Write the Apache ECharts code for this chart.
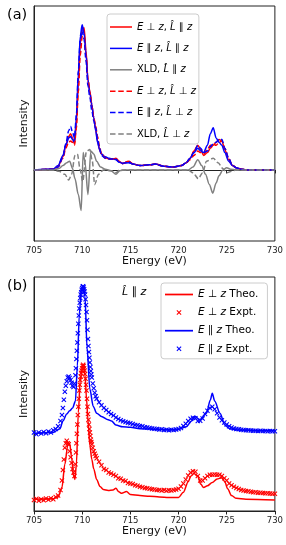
<!DOCTYPE html>
<html>
<head>
<meta charset="utf-8">
<script src="https://cdn.jsdelivr.net/npm/echarts@6/dist/echarts.min.js"></script>
<style>
html,body{margin:0;padding:0;background:#fff;}
#c{width:286px;height:545px;}
</style>
</head>
<body>
<div id="c"></div>
<script>
// ---------- Panel (a): theory spectra ----------
const energyA = [705, 707, 707.5, 708, 708.3, 708.6, 708.8, 709.0,
  709.2, 709.4, 709.6, 709.8, 710.0, 710.2, 710.4, 710.6,
  710.8, 711.0, 711.2, 711.4, 711.6, 711.8, 712.0, 712.4,
  712.8, 713.2, 713.5, 713.8, 714.2, 714.8, 715.3, 716,
  717, 717.6, 718.5, 719.5, 720.3, 720.8, 721.2, 721.6,
  722.0, 722.3, 722.6, 723.0, 723.3, 723.6, 723.9, 724.2,
  724.5, 724.8, 725.2, 725.6, 726.0, 726.5, 727, 730];

const redPar = [0, 0.005, 0.025, 0.09, 0.17, 0.23, 0.25, 0.22,
  0.18, 0.32, 0.60, 0.87, 0.97, 0.98, 0.82, 0.62,
  0.54, 0.45, 0.36, 0.28, 0.20, 0.14, 0.11, 0.085,
  0.075, 0.075, 0.08, 0.06, 0.045, 0.06, 0.04, 0.03,
  0.035, 0.04, 0.025, 0.02, 0.03, 0.05, 0.08, 0.13,
  0.17, 0.14, 0.10, 0.12, 0.15, 0.17, 0.19, 0.21,
  0.20, 0.14, 0.07, 0.03, 0.015, 0.005, 0, 0];

const bluePar = [0, 0.006, 0.03, 0.10, 0.17, 0.22, 0.23, 0.21,
  0.19, 0.36, 0.66, 0.92, 1.0, 0.94, 0.80, 0.62,
  0.53, 0.45, 0.36, 0.27, 0.19, 0.14, 0.11, 0.09,
  0.08, 0.075, 0.07, 0.055, 0.045, 0.05, 0.04, 0.03,
  0.035, 0.04, 0.025, 0.02, 0.03, 0.05, 0.08, 0.12,
  0.15, 0.13, 0.12, 0.17, 0.25, 0.29, 0.22, 0.19,
  0.17, 0.12, 0.06, 0.03, 0.015, 0.005, 0, 0];

const redPerp = [0, 0.005, 0.02, 0.08, 0.15, 0.19, 0.20, 0.19,
  0.17, 0.29, 0.54, 0.79, 0.92, 0.92, 0.78, 0.62,
  0.53, 0.43, 0.36, 0.30, 0.23, 0.16, 0.11, 0.08,
  0.075, 0.075, 0.08, 0.06, 0.045, 0.06, 0.04, 0.03,
  0.035, 0.04, 0.025, 0.02, 0.03, 0.05, 0.07, 0.10,
  0.13, 0.12, 0.11, 0.14, 0.17, 0.18, 0.17, 0.19,
  0.20, 0.15, 0.08, 0.03, 0.015, 0.005, 0, 0];

const bluePerp = [0, 0.005, 0.02, 0.09, 0.18, 0.27, 0.30, 0.26,
  0.22, 0.38, 0.68, 0.90, 0.96, 0.90, 0.75, 0.58,
  0.50, 0.41, 0.34, 0.29, 0.21, 0.15, 0.10, 0.08,
  0.075, 0.075, 0.075, 0.055, 0.045, 0.055, 0.04, 0.03,
  0.035, 0.04, 0.025, 0.02, 0.03, 0.05, 0.08, 0.12,
  0.17, 0.15, 0.12, 0.13, 0.16, 0.18, 0.19, 0.21,
  0.21, 0.15, 0.08, 0.03, 0.015, 0.005, 0, 0];

const xldPar = [[705,0],[707,0],[707.6,0.01],[708.0,0.03],[708.4,0.05],[708.7,0.06],[709.0,0.01],[709.25,-0.06],
  [709.6,-0.17],[709.9,-0.28],[710.1,0.12],[710.3,0.05],[710.6,-0.17],[710.9,0.13],[711.2,0.11],[711.5,0.06],
  [711.9,0.02],[712.4,0.005],[713.0,-0.005],[713.5,-0.03],[713.9,-0.005],[714.5,0],[721,0],[721.5,0.02],
  [722.0,0.07],[722.4,0.03],[722.8,-0.03],[723.2,-0.1],[723.55,-0.16],[723.9,-0.09],[724.2,-0.04],[724.6,0],
  [725,0.015],[725.4,0.005],[726,0],[730,0]];

const xldPerp = [[705,0],[707,0],[707.6,-0.01],[708.2,-0.03],[708.6,-0.07],[708.9,-0.03],[709.25,0.10],[709.5,0.11],
  [709.8,0.0],[710.05,-0.08],[710.45,0.13],[710.8,0.14],[711.05,0.06],[711.3,-0.1],[711.7,-0.03],[712.2,0],
  [713.0,-0.005],[713.5,-0.02],[713.9,0],[721,0],[721.5,-0.02],[722.05,-0.06],[722.5,-0.02],[722.9,0.06],
  [723.6,0.08],[724.1,0.05],[724.6,0.01],[725.0,-0.02],[725.5,-0.01],[726,0],[730,0]];

// ---------- Panel (b): theory vs experiment ----------
const theoRed = [[705,0.05],[707,0.052],[707.5,0.06],[707.9,0.10],[708.2,0.2],[708.5,0.28],[708.7,0.29],[708.9,0.23],
  [709.1,0.15],[709.25,0.135],[709.4,0.2],[709.6,0.42],[709.8,0.56],[710.0,0.61],[710.15,0.62],[710.3,0.58],
  [710.45,0.48],[710.6,0.39],[710.8,0.28],[711.0,0.22],[711.2,0.18],[711.5,0.135],[711.85,0.105],[712.2,0.092],
  [712.7,0.088],[713.2,0.09],[713.5,0.097],[713.8,0.082],[714.1,0.076],[714.6,0.083],[715,0.07],[716,0.066],
  [717,0.063],[718,0.06],[719,0.058],[720,0.058],[720.5,0.08],[721,0.125],[721.3,0.15],[721.6,0.16],
  [722.0,0.148],[722.3,0.115],[722.6,0.1],[723,0.108],[723.5,0.122],[724,0.137],[724.5,0.142],[724.8,0.125],
  [725.1,0.095],[725.5,0.066],[726,0.054],[727,0.05],[730,0.047]];

const theoBlue = [[705,0.332],[707,0.336],[707.7,0.352],[708.0,0.385],[708.4,0.415],[708.7,0.428],[709.0,0.44],[709.3,0.47],
  [709.5,0.62],[709.7,0.84],[709.9,0.94],[710.1,0.962],[710.3,0.915],[710.5,0.7],[710.8,0.52],[711.15,0.447],
  [711.5,0.418],[712.0,0.404],[712.7,0.39],[713.05,0.385],[713.5,0.367],[714.2,0.36],[715,0.358],[716,0.352],
  [718,0.348],[720,0.348],[720.8,0.36],[721.35,0.385],[721.7,0.405],[722.2,0.39],[722.9,0.418],[723.3,0.474],
  [723.5,0.503],[723.75,0.47],[724.3,0.418],[724.8,0.368],[725.3,0.352],[726,0.346],[730,0.343]];

const exptRed = [[705,0.047],[705.25,0.052],[705.5,0.044],[705.75,0.05],[706,0.046],[706.25,0.053],[706.5,0.048],[706.75,0.055],[707,0.05],[707.25,0.06],[707.5,0.066],[707.75,0.09],
  [707.9,0.13],[708,0.175],[708.1,0.22],[708.2,0.27],[708.3,0.29],[708.4,0.30],[708.5,0.29],[708.6,0.285],[708.7,0.255],[708.8,0.23],[708.9,0.205],[709,0.18],[709.1,0.165],[709.2,0.15],[709.3,0.2],
  [709.35,0.25],[709.4,0.29],[709.45,0.33],[709.5,0.37],[709.55,0.41],[709.6,0.445],[709.65,0.48],[709.7,0.515],[709.75,0.54],[709.8,0.56],[709.85,0.575],[709.9,0.59],[709.95,0.6],[710,0.61],[710.05,0.62],[710.1,0.625],[710.15,0.62],[710.2,0.61],[710.25,0.6],[710.3,0.585],[710.35,0.565],[710.4,0.54],[710.45,0.515],[710.5,0.48],[710.55,0.445],[710.6,0.415],[710.65,0.39],[710.7,0.37],[710.75,0.35],[710.8,0.335],[710.85,0.32],[710.9,0.305],[710.95,0.295],[711,0.285],
  [711.1,0.27],[711.2,0.255],[711.3,0.245],[711.4,0.235],[711.5,0.225],
  [711.75,0.21],[712,0.195],[712.25,0.18],[712.5,0.175],[712.75,0.165],[713,0.16],[713.25,0.155],[713.5,0.15],[713.75,0.14],[714,0.138],[714.25,0.13],[714.5,0.128],[714.75,0.12],[715,0.118],[715.25,0.115],[715.5,0.11],[715.75,0.108],[716,0.104],[716.25,0.102],[716.5,0.098],[716.75,0.097],[717,0.095],[717.25,0.093],[717.5,0.092],[717.75,0.09],[718,0.09],[718.25,0.088],[718.5,0.09],[718.75,0.087],[719,0.089],[719.25,0.088],[719.5,0.09],[719.75,0.092],[720,0.095],[720.25,0.105],[720.5,0.118],[720.75,0.135],[721,0.152],[721.25,0.165],[721.5,0.17],[721.75,0.168],[722,0.15],[722.25,0.13],[722.5,0.13],[722.75,0.14],[723,0.15],[723.25,0.155],[723.5,0.155],[723.75,0.156],[724,0.155],[724.25,0.155],[724.5,0.15],[724.75,0.14],[725,0.13],[725.25,0.118],[725.5,0.11],[725.75,0.104],[726,0.098],[726.25,0.094],[726.5,0.09],[726.75,0.088],[727,0.085],[727.25,0.084],[727.5,0.082],[727.75,0.08],[728,0.08],[728.25,0.078],[728.5,0.078],[728.75,0.077],[729,0.076],[729.25,0.076],[729.5,0.075],[729.75,0.074],[730,0.074]];

const exptBlue = [[705,0.335],[705.25,0.328],[705.5,0.336],[705.75,0.331],[706,0.338],[706.25,0.332],[706.5,0.34],[706.75,0.336],[707,0.345],[707.25,0.35],[707.5,0.362],[707.75,0.385],
  [707.9,0.41],[708,0.44],[708.1,0.475],[708.2,0.51],[708.3,0.535],[708.4,0.555],[708.5,0.57],[708.6,0.575],[708.7,0.568],[708.8,0.56],[708.9,0.548],[709,0.535],[709.1,0.53],[709.2,0.545],[709.3,0.58],
  [709.35,0.61],[709.4,0.65],[709.45,0.685],[709.5,0.72],[709.55,0.76],[709.6,0.8],[709.65,0.835],[709.7,0.865],[709.75,0.89],[709.8,0.91],[709.85,0.925],[709.9,0.935],[709.95,0.945],[710,0.952],[710.05,0.958],[710.1,0.96],[710.15,0.955],[710.2,0.948],[710.25,0.938],[710.3,0.925],[710.35,0.905],[710.4,0.88],[710.45,0.85],[710.5,0.815],[710.55,0.775],[710.6,0.735],[710.65,0.705],[710.7,0.68],[710.75,0.655],[710.8,0.635],[710.85,0.615],[710.9,0.598],[710.95,0.583],[711,0.57],
  [711.1,0.545],[711.2,0.525],[711.3,0.505],[711.4,0.49],[711.5,0.48],
  [711.75,0.465],[712,0.452],[712.25,0.44],[712.5,0.432],[712.75,0.422],[713,0.415],[713.25,0.408],[713.5,0.4],[713.75,0.393],[714,0.388],[714.25,0.384],[714.5,0.38],[714.75,0.377],[715,0.375],[715.25,0.372],[715.5,0.368],[715.75,0.366],[716,0.363],[716.25,0.362],[716.5,0.358],[716.75,0.357],[717,0.355],[717.25,0.353],[717.5,0.352],[717.75,0.35],[718,0.348],[718.25,0.349],[718.5,0.346],[718.75,0.347],[719,0.345],[719.25,0.347],[719.5,0.346],[719.75,0.348],[720,0.35],[720.25,0.355],[720.5,0.363],[720.75,0.373],[721,0.385],[721.25,0.394],[721.5,0.398],[721.75,0.396],[722,0.385],[722.25,0.386],[722.5,0.395],[722.75,0.415],[723,0.428],[723.25,0.44],[723.5,0.445],[723.75,0.435],[724,0.418],[724.25,0.4],[724.5,0.388],[724.75,0.378],[725,0.37],[725.25,0.362],[725.5,0.357],[725.75,0.353],[726,0.35],[726.25,0.349],[726.5,0.347],[726.75,0.346],[727,0.345],[727.25,0.345],[727.5,0.344],[727.75,0.343],[728,0.343],[728.25,0.342],[728.5,0.343],[728.75,0.342],[729,0.342],[729.25,0.341],[729.5,0.342],[729.75,0.341],[730,0.341]];

const xTicks = [705, 710, 715, 720, 725, 730];

[redPar, bluePar, redPerp, bluePerp].forEach(function (a, i) {
  if (a.length !== energyA.length) throw new Error('length mismatch in panel (a) array ' + i + ': ' + a.length);
});

function pair(vals) { return energyA.map(function (e, i) { return [e, vals[i]]; }); }

const FONT = 'DejaVu Sans';
const RED = '#ff0000', BLUE = '#0000ff', GRAY = '#808080';
const crossPath = 'path://M0,1.5L1.5,0L5,3.5L8.5,0L10,1.5L6.5,5L10,8.5L8.5,10L5,6.5L1.5,10L0,8.5L3.5,5Z';
const crossIcon = 'path://M-7,-7M17,17M0,1.5L1.5,0L5,3.5L8.5,0L10,1.5L6.5,5L10,8.5L8.5,10L5,6.5L1.5,10L0,8.5L3.5,5Z';
const solidIconA = 'path://M0,0h22v1.5h-22z';
const dashIconA = 'path://M0,0h5.5v1.5h-5.5z M8.25,0h5.5v1.5h-5.5z M16.5,0h5.5v1.5h-5.5z';
const solidIconB = 'path://M0,0h26v1.6h-26z';

const labels = {
  'rPar': '{i|E} \u22A5 {i|z}, {i|L\u0302} \u2225 {i|z}',
  'bPar': '{i|E} \u2225 {i|z}, {i|L\u0302} \u2225 {i|z}',
  'xPar': 'XLD, {i|L\u0302} \u2225 {i|z}',
  'rPerp': '{i|E} \u22A5 {i|z}, {i|L\u0302} \u22A5 {i|z}',
  'bPerp': 'E \u2225 {i|z}, {i|L\u0302} \u22A5 {i|z}',
  'xPerp': 'XLD, {i|L\u0302} \u22A5 {i|z}',
  'rTheo': '{i|E} \u22A5 {i|z} Theo.',
  'rExpt': '{i|E} \u22A5 {i|z} Expt.',
  'bTheo': '{i|E} \u2225 {i|z} Theo.',
  'bExpt': '{i|E} \u2225 {i|z} Expt.'
};

function xAxisCfg(idx) {
  return {
    type: 'value', gridIndex: idx, min: 705, max: 730, interval: 5,
    name: 'Energy (eV)', nameLocation: 'middle', nameGap: 15,
    nameTextStyle: { fontFamily: FONT, fontSize: 11, color: '#111' },
    axisLine: { show: true, lineStyle: { color: '#222', width: 1 } },
    axisTick: { show: true, inside: false, length: 3.5, lineStyle: { color: '#222', width: 1 } },
    axisLabel: { fontFamily: FONT, fontSize: 8.5, color: '#222', margin: 5,
      formatter: function (v) { return xTicks.indexOf(v) >= 0 ? String(v) : ''; } },
    splitLine: { show: false }
  };
}
function yAxisCfg(idx, mn, mx) {
  return {
    type: 'value', gridIndex: idx, min: mn, max: mx,
    name: 'Intensity', nameLocation: 'middle', nameGap: 4, nameRotate: 90,
    nameTextStyle: { fontFamily: FONT, fontSize: 11, color: '#111' },
    axisLine: { show: true, lineStyle: { color: '#222', width: 1 } },
    axisTick: { show: false }, axisLabel: { show: false }, splitLine: { show: false }
  };
}
function lineSeries(name, data, color, dashed, xi, z) {
  return {
    name: name, type: 'line', xAxisIndex: xi, yAxisIndex: xi, data: data,
    symbol: 'none', smooth: 0.3, smoothMonotone: 'x', z: z,
    lineStyle: { color: color, width: 1.5, type: dashed ? [5, 2.5] : 'solid' },
    itemStyle: { color: color }, emphasis: { disabled: true }
  };
}
function scatterSeries(name, data, color, z) {
  return {
    name: name, type: 'scatter', xAxisIndex: 1, yAxisIndex: 1, data: data,
    symbol: crossPath, symbolSize: 5, z: z,
    itemStyle: { color: color, opacity: 1 }, emphasis: { disabled: true }
  };
}
function richFor(size) { return { i: { fontStyle: 'italic', fontFamily: FONT, fontSize: size, color: '#000' } }; }

const chart = echarts.init(document.getElementById('c'), null, { renderer: 'canvas' });
chart.setOption({
  animation: false,
  backgroundColor: '#fff',
  grid: [
    { left: 34, right: 11, top: 6, height: 235, show: true, borderColor: '#222', borderWidth: 1, backgroundColor: 'transparent' },
    { left: 34, right: 11, top: 277, height: 234, show: true, borderColor: '#222', borderWidth: 1, backgroundColor: 'transparent' }
  ],
  xAxis: [xAxisCfg(0), xAxisCfg(1)],
  yAxis: [yAxisCfg(0, -0.49, 1.13), yAxisCfg(1, 0, 1)],
  legend: [
    {
      orient: 'vertical', left: 107, top: 14, padding: [8, 3, 5, 3],
      itemWidth: 22, itemHeight: 12, itemGap: 11.4, selectedMode: false,
      backgroundColor: 'rgba(255,255,255,0.8)', borderColor: '#cccccc', borderWidth: 1, borderRadius: 3,
      data: [{ name: 'rPar', icon: solidIconA }, { name: 'bPar', icon: solidIconA }, { name: 'xPar', icon: solidIconA },
             { name: 'rPerp', icon: dashIconA }, { name: 'bPerp', icon: dashIconA }, { name: 'xPerp', icon: dashIconA }],
      formatter: function (n) { return labels[n]; },
      textStyle: { fontFamily: FONT, fontSize: 10, color: '#000', rich: richFor(10) }
    },
    {
      orient: 'vertical', left: 161, top: 283, padding: [6, 9, 4, 4],
      itemWidth: 28, itemHeight: 12, itemGap: 6.6, selectedMode: false,
      backgroundColor: 'rgba(255,255,255,0.8)', borderColor: '#cccccc', borderWidth: 1, borderRadius: 3,
      data: [{ name: 'rTheo', icon: solidIconB }, { name: 'rExpt', icon: crossIcon }, { name: 'bTheo', icon: solidIconB }, { name: 'bExpt', icon: crossIcon }],
      formatter: function (n) { return labels[n]; },
      textStyle: { fontFamily: FONT, fontSize: 10.5, color: '#000', rich: richFor(10.5) }
    }
  ],
  graphic: [
    { type: 'text', left: 7, top: 8, style: { text: '(a)', fontFamily: FONT, fontSize: 14.5, fill: '#000' } },
    { type: 'text', left: 7, top: 279, style: { text: '(b)', fontFamily: FONT, fontSize: 14.5, fill: '#000' } },
    { type: 'text', left: 122, top: 287, style: { text: '{i|L\u0302} \u2225 {i|z}', fontFamily: FONT, fontSize: 11, fill: '#000',
        rich: { i: { fontStyle: 'italic', fontFamily: FONT, fontSize: 11, fill: '#000', color: '#000' } } } }
  ],
  series: [
    lineSeries('rPar', pair(redPar), RED, false, 0, 2),
    lineSeries('bPar', pair(bluePar), BLUE, false, 0, 3),
    lineSeries('xPar', xldPar, GRAY, false, 0, 4),
    lineSeries('rPerp', pair(redPerp), RED, true, 0, 5),
    lineSeries('bPerp', pair(bluePerp), BLUE, true, 0, 6),
    lineSeries('xPerp', xldPerp, GRAY, true, 0, 7),
    lineSeries('rTheo', theoRed, RED, false, 1, 2),
    scatterSeries('rExpt', exptRed, RED, 3),
    lineSeries('bTheo', theoBlue, BLUE, false, 1, 4),
    scatterSeries('bExpt', exptBlue, BLUE, 5)
  ]
});
</script>
</body>
</html>
